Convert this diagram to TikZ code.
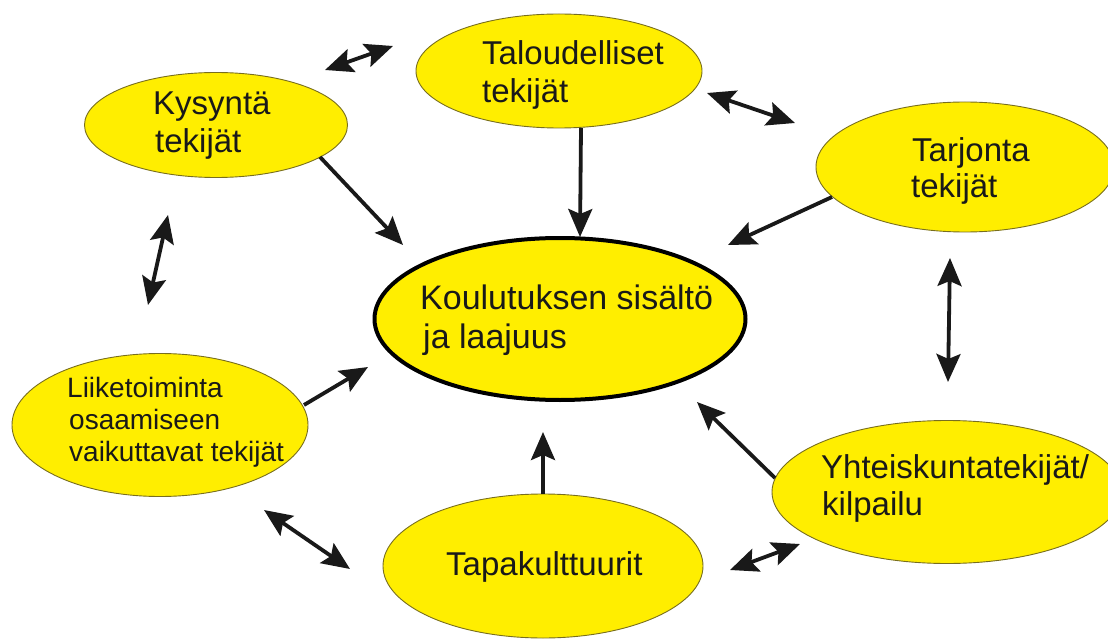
\documentclass[tikz,border=0pt]{standalone}
\usepackage{fontspec}
\setmainfont{Liberation Sans}
\usetikzlibrary{arrows.meta,shapes.geometric}
\definecolor{ylw}{RGB}{255,238,0}
\definecolor{rim}{RGB}{120,110,30}
\definecolor{ink}{RGB}{25,25,25}
\begin{document}
\begin{tikzpicture}[x=1pt,y=-1pt,
  bubble/.style={ellipse, fill=ylw, draw=rim, line width=0.9pt, inner sep=0pt},
  hub/.style={ellipse, fill=ylw, draw=black, line width=4pt, inner sep=0pt},
  lbl/.style={anchor=base west, inner sep=0pt, text=ink, font=\fontsize{33}{38}\selectfont},
  lblsmall/.style={anchor=base west, inner sep=0pt, text=ink, font=\fontsize{28}{32}\selectfont},
  tip/.tip={Stealth[length=28pt,width=24pt,inset=5pt]},
  conn/.style={line width=3.8pt, draw=ink, -tip},
  dconn/.style={line width=3.8pt, draw=ink, tip-tip}
]
\useasboundingbox (0,0) rectangle (1108,639);

% ellipses
\node[bubble, minimum width=286pt, minimum height=114pt] (tal) at (559,71) {};
\node[bubble, minimum width=263pt, minimum height=105pt] (kys) at (216,125) {};
\node[bubble, minimum width=298pt, minimum height=130pt] (tar) at (965,167) {};
\node[hub, minimum width=371pt, minimum height=162pt] (hubnode) at (560,319) {};
\node[bubble, minimum width=296pt, minimum height=143pt] (lii) at (160,425) {};
\node[bubble, minimum width=320pt, minimum height=144pt] (tap) at (543,566) {};
\node[bubble, minimum width=350pt, minimum height=143pt] (yht) at (947,492) {};

% texts
\node[lbl] (t1a) at (482,65) {Taloudelliset};
\node[lbl] (t1b) at (482,103) {tekijät};
\node[lbl] (t2a) at (153,115) {Kysyntä};
\node[lbl] (t2b) at (155,153) {tekijät};
\node[lbl] (t3a) at (912,162) {Tarjonta};
\node[lbl] (t3b) at (911,198) {tekijät};
\node[lbl, font=\fontsize{34}{39}\selectfont] (t4a) at (420,309) {Koulutuksen sisältö};
\node[lbl, font=\fontsize{34}{39}\selectfont] (t4b) at (423,348) {ja laajuus};
\node[lblsmall] (t5a) at (67,397) {Liiketoiminta};
\node[lblsmall] (t5b) at (69,429) {osaamiseen};
\node[lblsmall] (t5c) at (69,461) {vaikuttavat tekijät};
\node[lbl] (t6a) at (446,575) {Tapakulttuurit};
\node[lbl] (t7a) at (821,478) {Yhteiskuntatekijät/};
\node[lbl] (t7b) at (822,515) {kilpailu};

% connector end points
\coordinate (a1s) at (325,70);   \coordinate (a1e) at (393,46);
\coordinate (a2s) at (320,157);  \coordinate (a2e) at (403,245);
\coordinate (a3s) at (581,128);  \coordinate (a3e) at (580,237);
\coordinate (a4s) at (707,93);   \coordinate (a4e) at (795,123);
\coordinate (a5s) at (832,197);  \coordinate (a5e) at (728,245);
\coordinate (a6s) at (950,258);  \coordinate (a6e) at (948,382);
\coordinate (a7s) at (775,478);  \coordinate (a7e) at (697,402);
\coordinate (a8s) at (730,570);  \coordinate (a8e) at (800,544);
\coordinate (a9s) at (543,494);  \coordinate (a9e) at (543,432);
\coordinate (a10s) at (264,510); \coordinate (a10e) at (350,569);
\coordinate (a11s) at (304,405); \coordinate (a11e) at (368,367);
\coordinate (a12s) at (168,215); \coordinate (a12e) at (148,305);

% connectors
\draw[dconn] (a1s) -- (a1e);
\draw[conn] (a2s) -- (a2e);
\draw[conn] (a3s) -- (a3e);
\draw[dconn] (a4s) -- (a4e);
\draw[conn] (a5s) -- (a5e);
\draw[dconn] (a6s) -- (a6e);
\draw[conn] (a7s) -- (a7e);
\draw[dconn] (a8s) -- (a8e);
\draw[conn] (a9s) -- (a9e);
\draw[dconn] (a10s) -- (a10e);
\draw[conn] (a11s) -- (a11e);
\draw[dconn] (a12s) -- (a12e);
\end{tikzpicture}
\end{document}
